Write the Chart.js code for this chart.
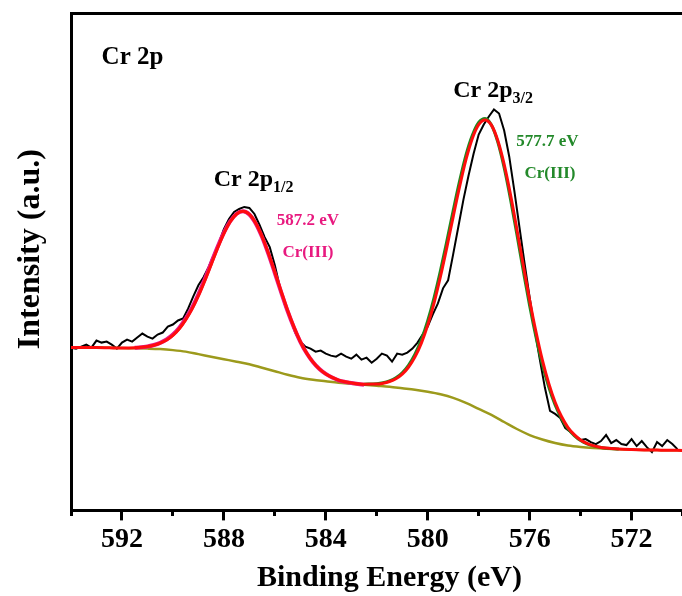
<!DOCTYPE html>
<html>
<head>
<meta charset="utf-8">
<script src="https://cdn.jsdelivr.net/npm/chart.js@4.4.1/dist/chart.umd.min.js"></script>
<style>
html, body { margin: 0; padding: 0; background: #fff; overflow: hidden; }
#wrap { width: 720px; height: 596px; }
</style>
</head>
<body>
<div id="wrap"><canvas id="chart" width="720" height="596"></canvas></div>
<script>
// measured spectrum (black)
const rawEnergy = [594.0, 593.8, 593.6, 593.4, 593.2, 593.0, 592.8, 592.6, 592.4, 592.2,
  592.0, 591.8, 591.6, 591.4, 591.2, 591.0, 590.8, 590.6, 590.4, 590.2,
  590.0, 589.8, 589.6, 589.4, 589.2, 589.0, 588.8, 588.6, 588.4, 588.2,
  588.0, 587.8, 587.6, 587.4, 587.2, 587.0, 586.8, 586.6, 586.4, 586.2,
  586.0, 585.8, 585.6, 585.4, 585.2, 585.0, 584.8, 584.6, 584.4, 584.2,
  584.0, 583.8, 583.6, 583.4, 583.2, 583.0, 582.8, 582.6, 582.4, 582.2,
  582.0, 581.8, 581.6, 581.4, 581.2, 581.0, 580.8, 580.6, 580.4, 580.2,
  580.0, 579.8, 579.6, 579.4, 579.2, 579.0, 578.8, 578.6, 578.4, 578.2,
  578.0, 577.8, 577.6, 577.4, 577.2, 577.0, 576.8, 576.6, 576.4, 576.2,
  576.0, 575.8, 575.6, 575.4, 575.2, 575.0, 574.8, 574.6, 574.4, 574.2,
  574.0, 573.8, 573.6, 573.4, 573.2, 573.0, 572.8, 572.6, 572.4, 572.2,
  572.0, 571.8, 571.6, 571.4, 571.2, 571.0, 570.8, 570.6, 570.4, 570.2];
const rawIntensity = [162, 161, 163, 165, 162, 169, 167, 168, 165, 161,
  167, 170, 168, 172, 176, 173, 171, 175, 177, 183,
  185, 189, 191, 201, 213, 224, 232, 242, 254, 266,
  280, 290, 297, 300, 302, 301, 295, 284, 272, 262,
  244, 222, 204, 191, 177, 168, 163, 161, 158, 159,
  156, 154, 153, 156, 153, 151, 155, 150, 152, 147,
  151, 156, 154, 148, 156, 155, 157, 161, 167, 175,
  183, 195, 206, 221, 229, 255, 282, 309, 333, 355,
  374, 384, 392, 399, 395, 378, 352, 318, 282, 246,
  212, 180, 150, 122, 99, 96, 92, 82, 78, 74,
  70, 71, 68, 66, 69, 75, 67, 70, 66, 65,
  71, 64, 69, 63, 58, 68, 64, 70, 66, 61];

// Shirley background (olive)
const bgEnergy = [594, 593.5, 593, 592.5, 592, 591.5, 591, 590.5, 590, 589.5,
  589, 588.5, 588, 587.5, 587, 586.5, 586, 585.5, 585, 584.5,
  584, 583.5, 583, 582.5, 582, 581.5, 581, 580.5, 580, 579.5,
  579, 578.5, 578, 577.5, 577, 576.5, 576, 575.5, 575, 574.5,
  574, 573.5, 573, 572.5, 572, 571.5, 571, 570.5, 570];
const bgIntensity = [162, 162, 162, 161.8, 161.5, 161.3, 161, 160.5, 159.5, 158,
  155.5, 153, 150.5, 148, 145.5, 142, 138.5, 135, 132, 130,
  128.5, 127, 126, 125, 124, 123, 121.5, 120, 118, 115.5,
  112, 107, 101, 95, 88, 81, 75, 70.5, 67, 64.5,
  63, 62, 61.3, 60.8, 60.5, 60.2, 60, 59.8, 59.7];

// fitted envelope (red)
const envEnergy = [594, 593.5, 593, 592.5, 592, 591.5, 591, 590.75, 590.5, 590.25,
  590, 589.75, 589.5, 589.25, 589, 588.75, 588.5, 588.25, 588, 587.75,
  587.5, 587.25, 587, 586.75, 586.5, 586.25, 586, 585.75, 585.5, 585.25,
  585, 584.75, 584.5, 584.25, 584, 583.75, 583.5, 583.25, 583, 582.5,
  582, 581.75, 581.5, 581.25, 581, 580.75, 580.5, 580.25, 580, 579.75,
  579.5, 579.25, 579, 578.75, 578.5, 578.25, 578, 577.75, 577.5, 577.25,
  577, 576.75, 576.5, 576.25, 576, 575.75, 575.5, 575.25, 575, 574.75,
  574.5, 574.25, 574, 573.75, 573.5, 573.25, 573, 572.5, 572, 571.5,
  571, 570.5, 570];
const envIntensity = [162, 162, 162, 161.8, 161.6, 161.9, 163.1, 164.4, 166.5, 169.6,
  174.3, 180.8, 189.6, 200.3, 213.4, 228.4, 244.6, 260.8, 275.5, 287.3,
  295.0, 297.7, 294.7, 286.0, 272.6, 255.8, 237.1, 217.9, 199.2, 182.6,
  168.1, 156.5, 147.5, 140.7, 135.8, 132.3, 129.6, 128.0, 126.9, 125.6,
  125.7, 126.6, 128.3, 131.0, 135.6, 142.7, 152.8, 166.5, 184.4, 206.6,
  232.8, 261.8, 292.4, 322.1, 349.0, 370.2, 383.9, 388.6, 383.4, 368.1,
  344.3, 314.0, 279.6, 244.0, 209.2, 177.5, 149.5, 126.4, 107.6, 93.4,
  82.7, 75.4, 70.1, 66.7, 64.4, 62.9, 62.0, 61.0, 60.5, 60.2,
  60.0, 59.8, 59.7];

// Cr 2p1/2 component (magenta)
const p12Energy = [591.5, 591, 590.75, 590.5, 590.25, 590, 589.75, 589.5, 589.25, 589,
  588.75, 588.5, 588.25, 588, 587.75, 587.5, 587.25, 587, 586.75, 586.5,
  586.25, 586, 585.75, 585.5, 585.25, 585, 584.75, 584.5, 584.25, 584,
  583.75, 583.5, 583.25, 583, 582.5];
const p12Intensity = [161.9, 163.1, 164.6, 166.8, 170.1, 175.0, 181.8, 190.8, 201.8, 215.1,
  230.2, 246.3, 262.2, 276.5, 287.8, 295.2, 297.7, 294.5, 285.6, 272.0,
  255.0, 236.2, 217.0, 198.4, 182.0, 167.8, 156.4, 147.5, 140.8, 135.8,
  132.2, 129.5, 127.9, 126.8, 125.1];

// Cr 2p3/2 component (green)
const p32Energy = [582.5, 582, 581.75, 581.5, 581.25, 581, 580.75, 580.5, 580.25, 580,
  579.75, 579.5, 579.25, 579, 578.75, 578.5, 578.25, 578, 577.75, 577.5,
  577.25, 577, 576.75, 576.5, 576.25, 576, 575.75, 575.5, 575.25, 575,
  574.75, 574.5, 574.25, 574, 573.75, 573.5, 573.25, 573, 572.5];
const p32Intensity = [125.6, 126.0, 127.0, 128.9, 131.9, 137.0, 144.7, 155.5, 170.0, 188.8,
  211.8, 238.6, 268.0, 298.5, 327.6, 353.5, 373.2, 386.0, 390.0, 383.5,
  366.5, 341.0, 309.5, 274.5, 238.5, 203.6, 172.3, 145.0, 122.8, 104.9,
  91.4, 81.3, 74.5, 69.5, 66.3, 64.2, 62.8, 61.9, 61.0];

const majorTicks = [592, 588, 584, 580, 576, 572];
const minorTicks = [594, 590, 586, 582, 578, 574, 570];

const serif = "'Liberation Serif', 'Times New Roman', serif";
const pink = '#e8197f';
const green = '#23892a';

function pairs(xs, ys) {
  return xs.map((x, i) => ({x: x, y: ys[i]}));
}

// text labels, placed in data coordinates
const notes = [
  {text: 'Cr 2p', sub: '', e: 592.8, v: 444, size: 25, color: '#000', align: 'left'},
  {text: 'Cr 2p', sub: '1/2', e: 588.4, v: 323, size: 24, color: '#000', align: 'left'},
  {text: 'Cr 2p', sub: '3/2', e: 579.0, v: 411, size: 24, color: '#000', align: 'left'},
  {text: '587.2 eV', sub: '', e: 584.7, v: 284, size: 17, color: pink, align: 'center'},
  {text: 'Cr(III)', sub: '', e: 584.7, v: 252, size: 17, color: pink, align: 'center'},
  {text: '577.7 eV', sub: '', e: 575.3, v: 363, size: 17, color: green, align: 'center'},
  {text: 'Cr(III)', sub: '', e: 575.2, v: 331, size: 17, color: green, align: 'center'}
];

const notePlugin = {
  id: 'notes',
  afterDatasetsDraw(chart) {
    const ctx = chart.ctx;
    const xs = chart.scales.x;
    const ys = chart.scales.y;
    ctx.save();
    notes.forEach(n => {
      let px = xs.getPixelForValue(n.e);
      let py = ys.getPixelForValue(n.v);
      ctx.fillStyle = n.color;
      ctx.textBaseline = 'alphabetic';
      ctx.textAlign = n.align;
      ctx.font = 'bold ' + n.size + 'px ' + serif;
      ctx.fillText(n.text, px, py);
      if (n.sub) {
        let w = ctx.measureText(n.text).width;
        ctx.textAlign = 'left';
        ctx.font = 'bold ' + Math.round(n.size * 0.68) + 'px ' + serif;
        ctx.fillText(n.sub, px + w, py + 6);
      }
    });

    // y axis title, a little above the middle of the frame as in the original
    ctx.translate(31, ys.getPixelForValue(260));
    ctx.rotate(-Math.PI / 2);
    ctx.fillStyle = '#000';
    ctx.textAlign = 'center';
    ctx.textBaseline = 'middle';
    ctx.font = 'bold 32px ' + serif;
    ctx.fillText('Intensity (a.u.)', 0, 0);
    ctx.restore();
  }
};

const ctx = document.getElementById('chart').getContext('2d');

new Chart(ctx, {
  type: 'line',
  data: {
    datasets: [
      {data: pairs(envEnergy, envIntensity), borderColor: '#ff0d0d', borderWidth: 3, cubicInterpolationMode: 'monotone'},
      {data: pairs(p32Energy, p32Intensity), borderColor: '#1e8a1e', borderWidth: 3, cubicInterpolationMode: 'monotone'},
      {data: pairs(p12Energy, p12Intensity), borderColor: '#e6178a', borderWidth: 4, cubicInterpolationMode: 'monotone'},
      {data: pairs(bgEnergy, bgIntensity), borderColor: '#9c9a1c', borderWidth: 2.5, cubicInterpolationMode: 'monotone'},
      {data: pairs(rawEnergy, rawIntensity), borderColor: '#000', borderWidth: 2, tension: 0}
    ]
  },
  options: {
    responsive: false,
    animation: false,
    parsing: false,
    elements: {point: {radius: 0}},
    layout: {padding: {top: 13, right: 12, left: 71, bottom: 0}},
    plugins: {legend: {display: false}, tooltip: {enabled: false}},
    scales: {
      x: {
        type: 'linear',
        position: 'bottom',
        reverse: true,
        min: 569,
        max: 594,
        afterBuildTicks: axis => {
          axis.ticks = majorTicks.concat(minorTicks).sort((a, b) => a - b).map(v => ({value: v}));
        },
        ticks: {
          autoSkip: false,
          maxRotation: 0,
          padding: 3,
          color: '#000',
          font: {family: serif, size: 28, weight: 'bold'},
          callback: v => majorTicks.includes(v) ? String(v) : ''
        },
        grid: {
          display: true,
          drawOnChartArea: false,
          drawTicks: true,
          tickLength: 10,
          tickWidth: 3,
          tickColor: '#000',
          tickBorderDash: c => (c.tick && majorTicks.includes(c.tick.value)) ? [] : [4, 30]
        },
        border: {display: true, color: '#000', width: 3},
        title: {
          display: true,
          text: 'Binding Energy (eV)',
          color: '#000',
          font: {family: serif, size: 30, weight: 'bold'},
          padding: {top: 0, bottom: 0}
        }
      },
      xTop: {
        type: 'linear',
        position: 'top',
        reverse: true,
        min: 569,
        max: 594,
        ticks: {display: false},
        grid: {display: false, drawTicks: false},
        border: {display: true, color: '#000', width: 3}
      },
      y: {
        min: 0,
        max: 495,
        ticks: {display: false},
        grid: {display: false, drawTicks: false},
        border: {display: true, color: '#000', width: 3}
      }
    }
  },
  plugins: [notePlugin]
});
</script>
</body>
</html>
